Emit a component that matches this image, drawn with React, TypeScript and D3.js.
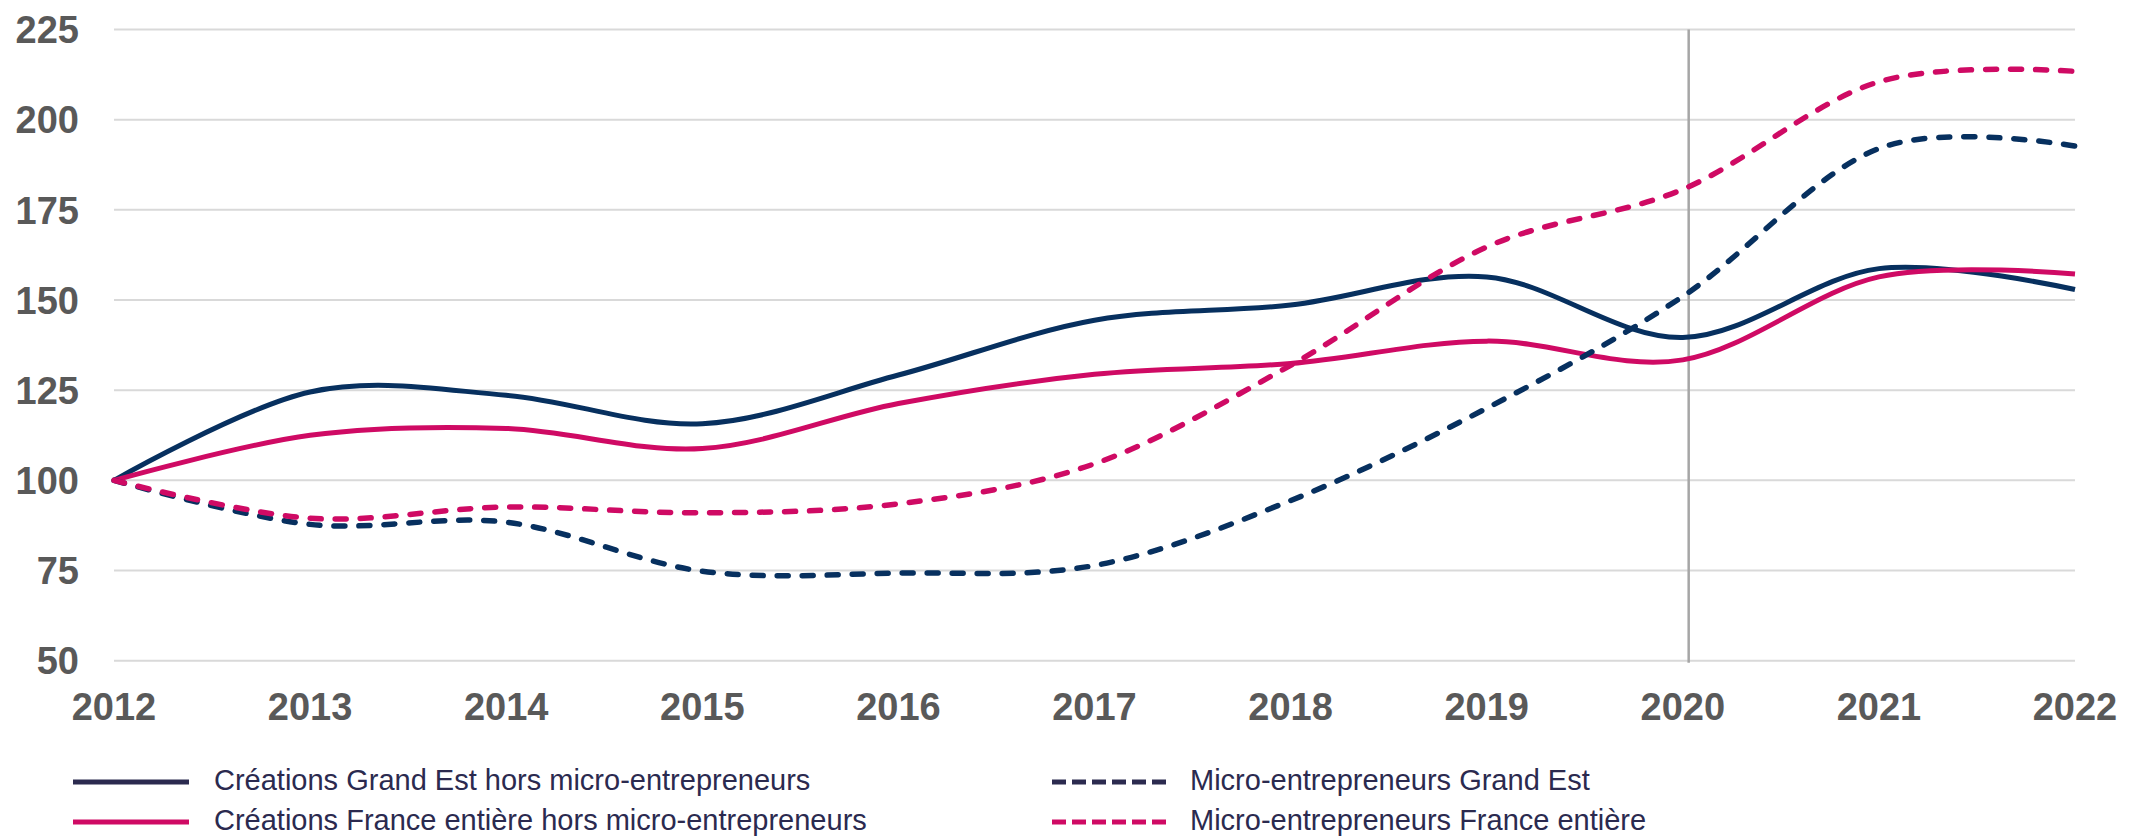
import React from "react";
import * as d3 from "d3";

const years = [2012, 2013, 2014, 2015, 2016, 2017, 2018, 2019, 2020, 2021, 2022];
const creationsGrandEst = [100, 124.5, 123.6, 115.7, 129.2, 144.4, 148.6, 156.4, 139.6, 158.7, 152.9];
const creationsFrance = [100, 112.5, 114.4, 108.8, 121.3, 129.4, 132.4, 138.6, 133.4, 156.4, 157.2];
const microGrandEst = [100, 87.8, 88.4, 74.8, 74.3, 76.4, 94.4, 120.0, 151.0, 192.0, 192.7];
const microFrance = [100, 89.5, 92.6, 91.0, 93.5, 104.6, 131.9, 164.7, 180.7, 210.5, 213.4];
const yTicks = [50, 75, 100, 125, 150, 175, 200, 225];
const markerYear = [2020.03];

const NAVY = "#07305f";
const PINK = "#cf0a64";
const LEG_NAVY = "#2b2a4f";
const LEG_TEXT = "#2b2a4f";
const AXIS_TEXT = "#595959";

const series = [
  { name: "Créations Grand Est hors micro-entrepreneurs", values: creationsGrandEst, color: NAVY, legColor: LEG_NAVY, dashed: false },
  { name: "Créations France entière hors micro-entrepreneurs", values: creationsFrance, color: PINK, legColor: PINK, dashed: false },
  { name: "Micro-entrepreneurs Grand Est", values: microGrandEst, color: NAVY, legColor: LEG_NAVY, dashed: true },
  { name: "Micro-entrepreneurs France entière", values: microFrance, color: PINK, legColor: PINK, dashed: true },
];

export default function App() {
  const W = 2129;
  const H = 836;
  const x = d3.scaleLinear().domain([2012, 2022]).range([114, 2075]);
  const y = d3.scaleLinear().domain([50, 225]).range([660.7, 29.5]);
  const line = d3
    .line<number>()
    .x((_, i) => x(years[i]))
    .y((d) => y(d))
    .curve(d3.curveCardinal.tension(0));

  const legendItems = [
    { s: series[0], lx: 73, tx: 214, cy: 782 },
    { s: series[1], lx: 73, tx: 214, cy: 822 },
    { s: series[2], lx: 1052, tx: 1190, cy: 782 },
    { s: series[3], lx: 1052, tx: 1190, cy: 822 },
  ];

  return (
    <svg
      width={W}
      height={H}
      style={{ position: "absolute", left: 0, top: 0, display: "block", background: "#fff" }}
      fontFamily="'Liberation Sans', Arial, sans-serif"
    >
      {yTicks.map((t) => (
        <g key={t}>
          <line x1={x(2012)} x2={x(2022)} y1={y(t)} y2={y(t)} stroke="#d9d9d9" strokeWidth={2} />
          <text
            x={79}
            y={y(t)}
            dy="0.36em"
            textAnchor="end"
            fontSize={38}
            fontWeight="bold"
            fill={AXIS_TEXT}
          >
            {t}
          </text>
        </g>
      ))}
      {years.map((yr) => (
        <text
          key={yr}
          x={x(yr)}
          y={720}
          textAnchor="middle"
          fontSize={38}
          fontWeight="bold"
          fill={AXIS_TEXT}
        >
          {yr}
        </text>
      ))}
      {markerYear.map((m) => (
        <line
          key={m}
          x1={x(m)}
          x2={x(m)}
          y1={y(225)}
          y2={y(50) + 2}
          stroke="#a6a6a6"
          strokeWidth={2.5}
        />
      ))}
      {series.map((s) => (
        <path
          key={s.name}
          d={line(s.values) || ""}
          fill="none"
          stroke={s.color}
          strokeWidth={s.dashed ? 5.5 : 5}
          strokeDasharray={s.dashed ? "11 14" : undefined}
          strokeLinecap={s.dashed ? "round" : "butt"}
          strokeLinejoin="round"
        />
      ))}
      {legendItems.map(({ s, lx, tx, cy }) => (
        <g key={s.name}>
          <line
            x1={lx}
            x2={lx + 116}
            y1={cy}
            y2={cy}
            stroke={s.legColor}
            strokeWidth={5}
            strokeDasharray={s.dashed ? "14 6" : undefined}
          />
          <text x={tx} y={cy + 8} fontSize={29} fill={LEG_TEXT}>
            {s.name}
          </text>
        </g>
      ))}
    </svg>
  );
}
